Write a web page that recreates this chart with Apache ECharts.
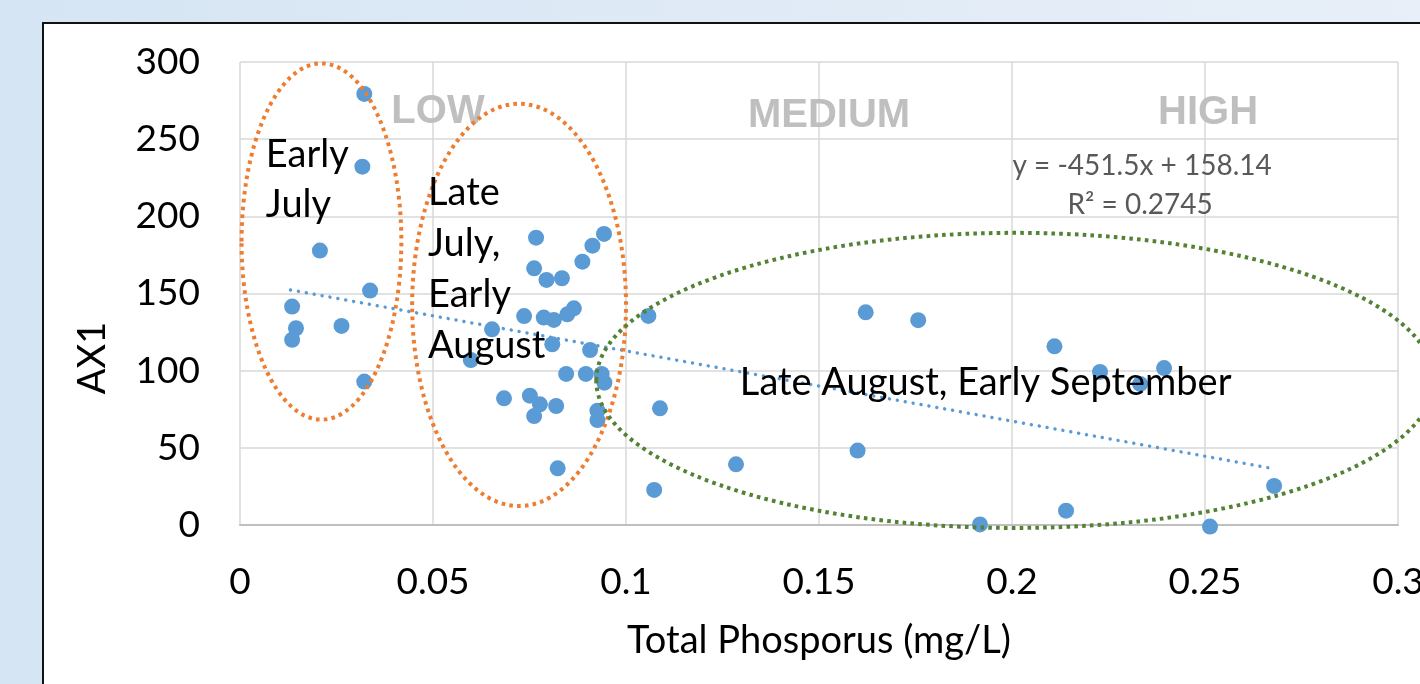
<!DOCTYPE html>
<html>
<head>
<meta charset="utf-8">
<script src="https://cdn.jsdelivr.net/npm/echarts@6/dist/echarts.min.js"></script>
<style>
  html, body { margin:0; padding:0; width:1420px; height:684px; overflow:hidden;
    background: linear-gradient(to right, #d5e5f3 0%, #dfeaf6 50%, #e8eff8 100%); }
  #panel { position:absolute; left:42px; top:22px; width:1420px; height:700px; background:#fff;
    border-left:2px solid #111; border-top:2px solid #111; }
  #chart { position:absolute; left:0; top:0; width:1420px; height:684px; }
</style>
</head>
<body>
<div id="panel"></div>
<div id="chart"></div>
<script>
// ---- data ----
const tpValues  = [0.0322,0.0317,0.0207,0.0337,0.0135,0.0145,0.0135,0.0263,0.0322,
  0.0767,0.0943,0.0913,0.0887,0.0762,0.0794,0.0834,0.0736,0.0787,0.0813,0.0848,0.0865,0.0653,0.0809,0.0907,0.0598,
  0.0845,0.0896,0.0937,0.0944,0.0684,0.0751,0.0777,0.0762,0.0819,0.0926,0.0926,0.0823,
  0.1058,0.1088,0.1073,0.1285,0.1600,0.1621,0.1757,0.1917,0.2110,0.2228,0.2394,0.2332,0.2140,0.2513,0.2679];
const ax1Values = [279.3,232.2,177.8,151.9,141.5,127.5,120.0,129.0,92.9,
  186.2,188.6,181.0,170.6,166.3,158.8,159.9,135.4,134.4,132.9,136.5,140.4,126.8,117.1,113.4,106.9,
  97.9,97.9,97.9,92.2,82.1,83.8,78.2,70.6,77.1,74.1,68.0,36.7,
  135.5,75.6,22.7,39.3,48.2,137.8,132.7,0.4,115.8,99.2,101.7,91.4,9.3,-1.0,25.3];
const trendX = [0.0131, 0.2664];
const trendY = [152.3, 37.1];
const xTickLabels = ['0','0.05','0.1','0.15','0.2','0.25','0.3'];
const yTickLabels = ['0','50','100','150','200','250','300'];
const xName = 'Total Phosporus (mg/L)';
const yName = 'AX1';
const equationText = 'y = -451.5x + 158.14';
const r2Text = 'R\u00b2 = 0.2745';
const zoneLabels = ['LOW','MEDIUM','HIGH'];
const groupLabels = ['Early\nJuly', 'Late\nJuly,\nEarly\nAugust', 'Late August, Early September'];

const FONT = 'Lato, "Noto Sans", sans-serif';
const chart = echarts.init(document.getElementById('chart'), null, {renderer:'canvas'});
const points = tpValues.map((x,i)=>[x, ax1Values[i]]);

chart.setOption({
  animation:false,
  backgroundColor:'transparent',
  grid:{left:240, top:62, right:22, bottom:159, containLabel:false, outerBoundsMode:'none'},
  xAxis:{type:'value', min:0, max:0.3, interval:0.05,
    name:xName, nameLocation:'middle', nameGap:97,
    nameTextStyle:{fontFamily:FONT, fontSize:38, color:'#000'},
    axisLine:{show:true, onZero:false, lineStyle:{color:'#bfbfbf', width:2}},
    axisTick:{show:false},
    axisLabel:{fontFamily:FONT, fontSize:37, color:'#000', margin:39, hideOverlap:false,
      showMinLabel:true, showMaxLabel:true,
      formatter:(v)=>xTickLabels[Math.round(v/0.05)]},
    splitLine:{show:true, lineStyle:{color:'#d9d9d9', width:1.5}}},
  yAxis:{type:'value', min:0, max:300, interval:50,
    axisLine:{show:false}, axisTick:{show:false},
    axisLabel:{fontFamily:FONT, fontSize:37, color:'#000', margin:40,
      formatter:(v)=>yTickLabels[Math.round(v/50)]},
    splitLine:{show:true, lineStyle:{color:'#d9d9d9', width:1.5}}},
  series:[
    {type:'scatter', data:points, symbol:'circle', symbolSize:16, clip:false,
      itemStyle:{color:'#5b9bd5', opacity:1}, z:3},
    {type:'line', data:[[trendX[0],trendY[0]],[trendX[1],trendY[1]]], symbol:'none',
      lineStyle:{color:'#5b9bd5', width:3.5, type:[0.01,8], cap:'round'}, z:4}
  ]
});

function P(x,y){ return chart.convertToPixel({gridIndex:0},[x,y]); }
// annotation anchors in data units
const ellipses = [
  {c:[0.0211,183.7], r:[0.0207,115.4], color:'#ed7d31'},
  {c:[0.0723,142.6], r:[0.0277,130.3], color:'#ed7d31'},
  {c:[0.2008,93.7],  r:[0.1085,95.6],  color:'#548235'}
];
const g = [];
ellipses.forEach(e=>{
  const c = P(e.c[0], e.c[1]);
  const o = P(0,0);
  const ex = P(e.r[0],0)[0]-o[0];
  const ey = o[1]-P(0,e.r[1])[1];
  g.push({type:'ellipse', z:50, shape:{cx:c[0], cy:c[1], rx:ex, ry:ey},
    style:{fill:'none', stroke:e.color, lineWidth:4, lineDash:[3.6,4.2]}});
});
const zonePos = [[0.0513,267.6],[0.1526,265.0],[0.2508,267.0]];
zoneLabels.forEach((t,i)=>{
  const p = P(zonePos[i][0], zonePos[i][1]);
  g.push({type:'text', z:40, x:p[0], y:p[1], style:{text:t, fontFamily:'"Liberation Sans", Arial, sans-serif',
    fontWeight:'bold', fontSize:40, fill:'#bfbfbf', align:'center', verticalAlign:'middle'}});
});
let p = P(0.2337,232.6);
g.push({type:'text', z:60, x:p[0], y:p[1], style:{text:equationText, fontFamily:FONT, fontSize:28, fill:'#595959', align:'center', verticalAlign:'middle'}});
p = P(0.2332,207.3);
g.push({type:'text', z:60, x:p[0], y:p[1], style:{text:r2Text, fontFamily:FONT, fontSize:28, fill:'#595959', align:'center', verticalAlign:'middle'}});
p = P(0.0067,255.9);
g.push({type:'text', z:60, x:p[0], y:p[1], style:{text:groupLabels[0], fontFamily:FONT, fontSize:38, lineHeight:50, fill:'#000', align:'left', verticalAlign:'top'}});
p = P(0.0487,231.6);
g.push({type:'text', z:60, x:p[0], y:p[1], style:{text:groupLabels[1], fontFamily:FONT, fontSize:38, lineHeight:51, fill:'#000', align:'left', verticalAlign:'top'}});
p = P(0.1295,92.0);
g.push({type:'text', z:60, x:p[0], y:p[1], style:{text:groupLabels[2], fontFamily:FONT, fontSize:38, fill:'#000', align:'left', verticalAlign:'middle'}});
g.push({type:'text', z:60, x:93, y:358, rotation:Math.PI/2, style:{text:yName, fontFamily:FONT, fontSize:38, fill:'#000', align:'center', verticalAlign:'middle'}});
chart.setOption({graphic:g});
</script>
</body>
</html>
